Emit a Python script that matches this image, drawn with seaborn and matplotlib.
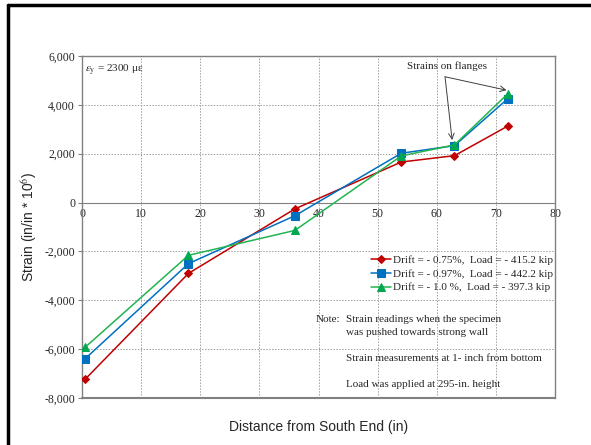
import matplotlib
matplotlib.use("Agg")
import matplotlib.pyplot as plt
from matplotlib.lines import Line2D
import numpy as np
import pandas as pd
import seaborn as sns

# distance from south end (in)
distance = [0.5, 18, 36, 54, 63, 72]

strain_075 = [-7240, -2900, -260, 1660, 1920, 3130]
strain_097 = [-6400, -2500, -540, 2020, 2330, 4250]
strain_100 = [-5930, -2160, -1140, 1910, 2360, 4450]

labels = ["Drift = - 0.75%,  Load = - 415.2 kip",
          "Drift = - 0.97%,  Load = - 442.2 kip",
          "Drift = - 1.0 %,  Load = - 397.3 kip"]

line_colors = ["#C00000", "#0070C0", "#22B450"]
marker_colors = ["#C00000", "#0070C0", "#00A850"]
markers = ["D", "s", "^"]
msizes = [4.5, 5.5, 6]

xticks = [0, 10, 20, 30, 40, 50, 60, 70, 80]
yticks = [-8000, -6000, -4000, -2000, 0, 2000, 4000, 6000]

sns.set_style("white")
plt.rcParams["mathtext.fontset"] = "stix"
serif = "Liberation Serif"
sans = "Liberation Sans"

fig = plt.figure(figsize=(5.91, 4.45), dpi=100)
ax = fig.add_axes([82/591, 1-398/445, (555-82)/591, (398-56)/445])

series = [strain_075, strain_097, strain_100]
for i, vals in enumerate(series):
    df = pd.DataFrame({"x": distance, "y": vals})
    sns.lineplot(data=df, x="x", y="y", ax=ax, color=line_colors[i], lw=1.1,
                 marker=markers[i], markersize=msizes[i], markerfacecolor=marker_colors[i],
                 markeredgecolor=marker_colors[i], label=labels[i], zorder=3)

for s in ["top", "right", "left"]:
    ax.spines[s].set_color("#808080")
    ax.spines[s].set_linewidth(1.0)
ax.spines["bottom"].set_position(("data", 0))
ax.spines["bottom"].set_color("#808080")

ax.set_xlim(0, 80)
ax.set_ylim(-8000, 6000)
ax.set_xticks(xticks)
ax.set_yticks(yticks)
ax.set_yticklabels([f"{v:,}" for v in yticks], fontfamily=serif, fontsize=8.5)
ax.set_xticklabels([str(v) for v in xticks], fontfamily=serif, fontsize=8.5)
ax.grid(True, color="#A0A0A0", ls=(0, (1.5, 1.5)), lw=0.7)

ax.axhline(-8000, color="#808080", lw=1.5, clip_on=False, zorder=4)
ax.tick_params(axis="y", direction="out", length=3, color="#808080", pad=2, left=True)
ax.tick_params(axis="x", direction="out", length=0, pad=4)

ax.set_xlabel("Distance from South End (in)", fontfamily=sans, fontsize=10)
ax.set_ylabel("Strain (in/in * 10$^6$)", fontfamily=sans, fontsize=10)
ax.xaxis.set_label_coords(0.5, -0.065)
ax.yaxis.set_label_coords(-0.09, 0.5)

leg = ax.legend(loc="upper right", bbox_to_anchor=(1.005, 0.43), frameon=False,
                handlelength=1.8, handletextpad=0.15, borderaxespad=0, labelspacing=0.35,
                prop={"family": serif, "size": 8})

ax.text(0.5, 5400, r"$\epsilon_{\rm y}$ = 2300 με", fontfamily=serif, fontsize=8,
        va="center", ha="left")

ax.text(61.8, 5600, "Strains on flanges", ha="center", va="center",
        fontfamily=serif, fontsize=8)
arrow = dict(arrowstyle="->", color="#404040", lw=0.7, shrinkA=0, shrinkB=0)
ax.annotate("", xy=(62.6, 2560), xytext=(61.4, 5150), arrowprops=arrow)
ax.annotate("", xy=(71.8, 4600), xytext=(61.4, 5150), arrowprops=arrow)

ax.text(39.5, -4780, "Note:", fontfamily=serif, fontsize=8, va="center")
ax.text(44.6, -4780, "Strain readings when the specimen", fontfamily=serif, fontsize=8, va="center")
ax.text(44.6, -5300, "was pushed towards strong wall", fontfamily=serif, fontsize=8, va="center")
ax.text(44.6, -6370, "Strain measurements at 1- inch from bottom", fontfamily=serif, fontsize=8, va="center")
ax.text(44.6, -7430, "Load was applied at 295-in. height", fontfamily=serif, fontsize=8, va="center")

# outer frame of the chart object
fig.add_artist(Line2D([8/591, 1.0], [1-5/445, 1-5/445], color="black", lw=2.5,
                      transform=fig.transFigure))
fig.add_artist(Line2D([8/591, 8/591], [0.0, 1-5/445], color="black", lw=2.5,
                      transform=fig.transFigure))

fig.savefig("out.png", dpi=100)
plt.close(fig)
